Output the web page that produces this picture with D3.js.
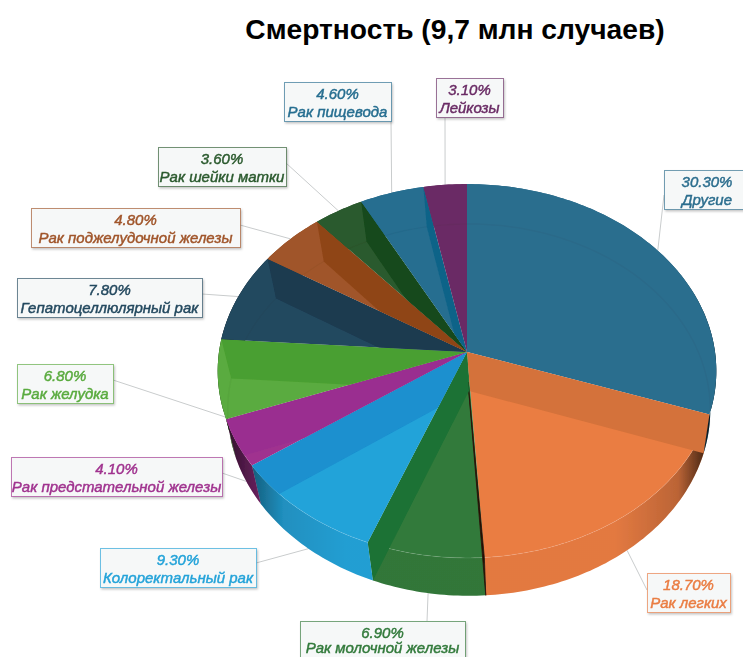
<!DOCTYPE html>
<html><head><meta charset="utf-8">
<script src="https://cdn.jsdelivr.net/npm/d3@7"></script>
<style>html,body{margin:0;padding:0;background:#fff;overflow:hidden}svg{display:block}</style>
</head><body><div id="chart"></div>
<script>
const titleText = "Смертность (9,7 млн случаев)";
const categories = ["Другие","Рак легких","Рак молочной железы","Колоректальный рак","Рак предстательной железы","Рак желудка","Гепатоцеллюлярный рак","Рак поджелудочной железы","Рак шейки матки","Рак пищевода","Лейкозы"];
const values = [30.3,18.7,6.9,9.3,4.1,6.8,7.8,4.8,3.6,4.6,3.1];
const colors = ["#2c6e8e","#ea7d43","#327a3b","#24a3d9","#a0338f","#5aab3f","#24495f","#a0552a","#2b5a2e","#266e90","#6a2c65"];
const wallColors = ["#2c6e8e","#d4723a","#1c7234","#1a90cf","#9a2f90","#4a9f30","#1b3a50","#8f4516","#14491a","#0f6488","#6a2c65"];
const boxX = [664,647,300,100,11,17,17,31,158,284,436];
const boxY = [170,573,621,548,457,364,278,208,147,82,78];
const boxW = [85,83,165,156,211,96,185,209,128,107,67];
const boxH = 39;
const anchorX = [664,647,427,256,222,113,202,240,286,391,445];
const anchorY = [195,590,621,563,473,380,294,225,163,121,118];

const W = 743, H = 657;
const svg = d3.select("#chart").append("svg").attr("width",W).attr("height",H);
const defs = svg.append("defs");
const soft = defs.append("filter").attr("id","soft");
soft.append("feGaussianBlur").attr("stdDeviation",0.45);
const shadow = defs.append("filter").attr("id","shadow").attr("x","-10%").attr("y","-20%").attr("width","120%").attr("height","150%");
shadow.append("feDropShadow").attr("dx",1).attr("dy",1.5).attr("stdDeviation",1).attr("flood-color","#000").attr("flood-opacity",0.25);

// perspective disc projection
const k = 0.1016;
const topDisc = {cx:467, cy:352, R:248, S:185};
const botDisc = {cx:469, cy:391, R:240, S:184};
const proj = (d,a,r=1) => {
  const u = Math.sin(a)*r, v = -Math.cos(a)*r, w = 1-k*v;
  return [d.cx + d.R*u/w, d.cy + d.S*v/w];
};
const arcPts = (d,a0,a1) => {
  const n = Math.max(2,Math.ceil(Math.abs(a1-a0)/(Math.PI/180)));
  return d3.range(n+1).map(i => proj(d, a0+(a1-a0)*i/n));
};
const line = d3.line();
const sectorPath = (d,s) => line([[d.cx,d.cy], ...arcPts(d,s.startAngle,s.endAngle)])+"Z";
const stripPath = s => line([...arcPts(topDisc,s.startAngle,s.endAngle), ...arcPts(botDisc,s.endAngle,s.startAngle)])+"Z";

const arcs = d3.pie().sort(null).value(d=>d)(values);

// shading of the side wall
const grad = defs.append("linearGradient").attr("id","sideShade").attr("gradientUnits","userSpaceOnUse")
  .attr("x1",225).attr("x2",712).attr("y1",0).attr("y2",0);
[[0,0.72],[0.05,0.45],[0.12,0.12],[0.25,0.03],[0.8,0.03],[0.93,0.2],[0.97,0.55],[1,0.8]].forEach(([o,a])=>
  grad.append("stop").attr("offset",o).attr("stop-color","#000").attr("stop-opacity",a));

// slices whose inner wall stays inside the top face; the others run on over the side strip
const wallOverSide = [true,true,true,false,false,true,true,true,true,true,true];
arcs.forEach((s,i)=>{
  const cp = defs.append("clipPath").attr("id","clip"+i);
  cp.append("path").attr("d",sectorPath(topDisc,s));
  if (wallOverSide[i]) cp.append("path").attr("d",stripPath(s));
});

const pie = svg.append("g").attr("filter","url(#soft)");

// leader lines
const leaderG = svg.insert("g","g").attr("filter","url(#soft)");
arcs.forEach((s,i)=>{
  const mid=(s.startAngle+s.endAngle)/2;
  const front = -Math.cos(mid)>0;
  const p = proj(front?botDisc:topDisc, mid);
  leaderG.append("path").attr("d",line([[anchorX[i],anchorY[i]],p]))
    .attr("fill","none").attr("stroke","#c9cccd").attr("stroke-width",1);
});

// side strips
pie.selectAll("path.side").data(arcs).join("path").attr("class","side")
  .attr("d",stripPath).attr("fill",(d,i)=>colors[i]);
pie.selectAll("path.shade").data(arcs).join("path").attr("class","shade")
  .attr("d",stripPath).attr("fill","url(#sideShade)");
// top faces
pie.selectAll("path.top").data(arcs).join("path").attr("class","top")
  .attr("d",d=>sectorPath(topDisc,d)).attr("fill",(d,i)=>colors[i]);
// back rim of the bottom disc, seen through the translucent top
pie.append("path").attr("d",line(arcPts(botDisc,-Math.PI*0.62,Math.PI*0.58)))
  .attr("fill","none").attr("stroke","#000").attr("stroke-opacity",0.03).attr("stroke-width",1.5);
pie.append("path").attr("d",line(arcPts(topDisc,Math.PI*0.6,Math.PI*1.4)))
  .attr("fill","none").attr("stroke","#fff").attr("stroke-opacity",0.1).attr("stroke-width",1);

// radial inner walls: each is seen through the slice lying beneath it
const n = arcs.length;
arcs.forEach((s,i)=>{
  const a = s.endAngle;
  if (a >= 2*Math.PI-1e-6) return;
  const q = line([[topDisc.cx,topDisc.cy],proj(topDisc,a),proj(botDisc,a),[botDisc.cx,botDisc.cy]])+"Z";
  const nearlyFront = Math.abs(a-Math.PI)<0.1;
  const beneath = a<Math.PI ? (i+1)%n : i;
  if (nearlyFront) {
    pie.append("path").attr("d",line([[topDisc.cx+1,topDisc.cy+30],proj(topDisc,a),proj(botDisc,a)])+"Z")
      .attr("fill","#2a1206").attr("stroke","#2a1206").attr("stroke-width",0.8);
  } else {
    pie.append("path").attr("d",q).attr("fill",wallColors[beneath]).attr("clip-path",`url(#clip${beneath})`);
  }
});

// labels
const labelG = svg.append("g");
categories.forEach((c,i)=>{
  const g = labelG.append("g").attr("transform",`translate(${boxX[i]},${boxY[i]})`);
  g.append("rect").attr("x",0.5).attr("y",0.5).attr("width",boxW[i]).attr("height",boxH)
    .attr("fill","#f6f8f8").attr("stroke",colors[i]).attr("stroke-opacity",0.65).attr("filter","url(#shadow)");
  const cx = i===0 ? 43 : boxW[i]/2;
  const t = g.append("g").attr("filter","url(#soft)").attr("text-anchor","middle")
    .attr("font-family","'Liberation Sans',Arial,sans-serif").attr("font-style","italic").attr("font-size",15)
    .attr("fill",colors[i]).attr("stroke",colors[i]).attr("stroke-width",0.45);
  t.append("text").attr("x",cx).attr("y",16.5).text(d3.format(".2f")(values[i])+"%");
  t.append("text").attr("x",cx).attr("y",Math.min(34.5, H-4-boxY[i])).text(c);
});

svg.append("text").attr("x",455).attr("y",39).attr("text-anchor","middle")
  .attr("font-family","'Liberation Sans',Arial,sans-serif").attr("font-size",28.2).attr("font-weight",700)
  .attr("fill","#000").text(titleText);
</script></body></html>
